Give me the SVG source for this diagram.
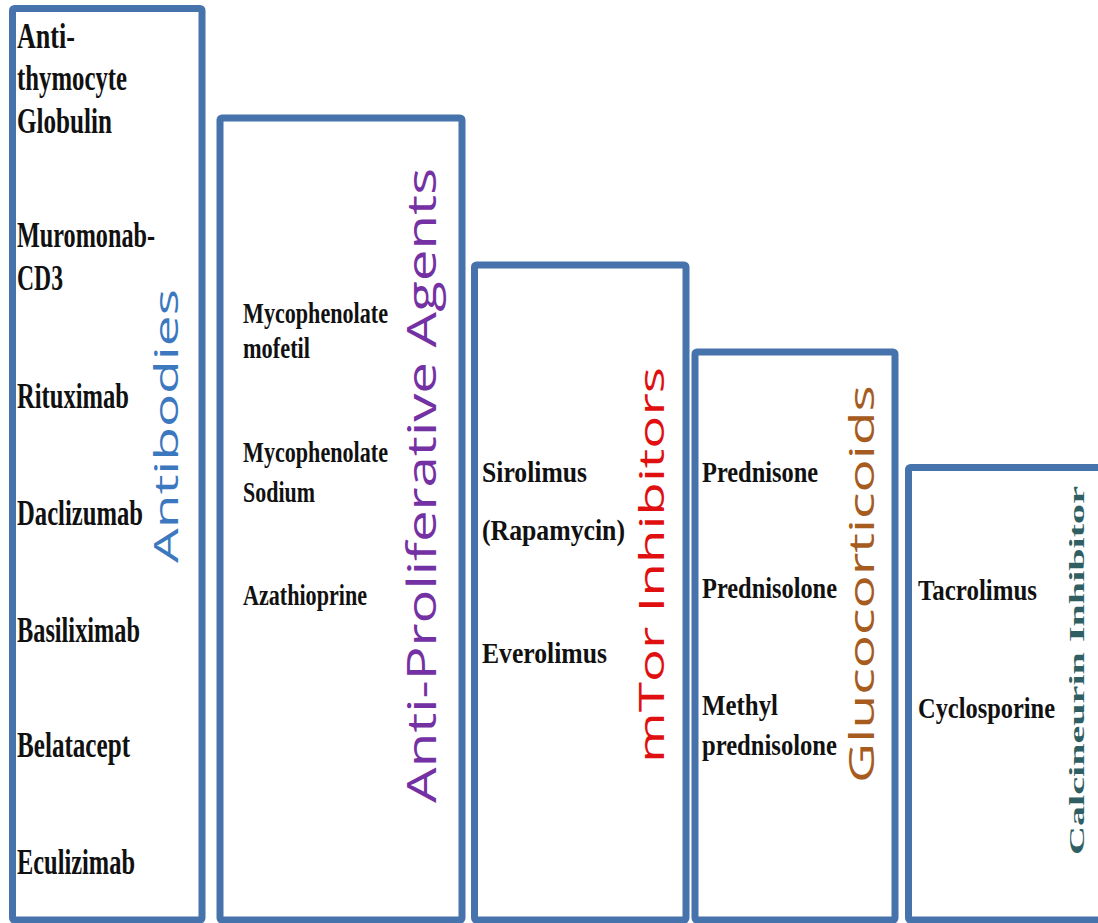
<svg xmlns="http://www.w3.org/2000/svg" width="1098" height="923" viewBox="0 0 1098 923">
<style>
.box{fill:#ffffff;stroke:#4773ac;stroke-width:7;}
.drug{font-family:"Liberation Serif","Times New Roman",serif;font-weight:bold;fill:#111111;}
.f35{font-size:35px;}
.f29{font-size:29px;}
.f30{font-size:30px;}
.lab{font-family:"Open Sans","DejaVu Sans",sans-serif;}
</style>
<rect width="1098" height="923" fill="#ffffff"/>
<g id="connectors"></g>
<g id="antibodies">
<rect class="box" x="12.5" y="8.5" width="189.5" height="911.5" rx="2"/>
<text class="drug f35" x="17" y="48" textLength="58" lengthAdjust="spacingAndGlyphs">Anti-</text>
<text class="drug f35" x="17" y="90" textLength="110" lengthAdjust="spacingAndGlyphs">thymocyte</text>
<text class="drug f35" x="17" y="133" textLength="95" lengthAdjust="spacingAndGlyphs">Globulin</text>
<text class="drug f35" x="17" y="247" textLength="138" lengthAdjust="spacingAndGlyphs">Muromonab-</text>
<text class="drug f35" x="17" y="290" textLength="46" lengthAdjust="spacingAndGlyphs">CD3</text>
<text class="drug f35" x="17" y="408" textLength="112" lengthAdjust="spacingAndGlyphs">Rituximab</text>
<text class="drug f35" x="17" y="525" textLength="126" lengthAdjust="spacingAndGlyphs">Daclizumab</text>
<text class="drug f35" x="17" y="642" textLength="123" lengthAdjust="spacingAndGlyphs">Basiliximab</text>
<text class="drug f35" x="17" y="757" textLength="113" lengthAdjust="spacingAndGlyphs">Belatacept</text>
<text class="drug f35" x="17" y="874" textLength="118" lengthAdjust="spacingAndGlyphs">Eculizimab</text>
<text class="lab" transform="translate(178,563) rotate(-90)" font-size="33" fill="#3c78bf" textLength="274" lengthAdjust="spacingAndGlyphs">Antibodies</text>
</g>
<g id="antiproliferative">
<rect class="box" x="220" y="118" width="242" height="802" rx="2"/>
<text class="drug f29" x="243" y="323" textLength="145" lengthAdjust="spacingAndGlyphs">Mycophenolate</text>
<text class="drug f29" x="243" y="358" textLength="67" lengthAdjust="spacingAndGlyphs">mofetil</text>
<text class="drug f29" x="243" y="462" textLength="145" lengthAdjust="spacingAndGlyphs">Mycophenolate</text>
<text class="drug f29" x="243" y="502" textLength="72" lengthAdjust="spacingAndGlyphs">Sodium</text>
<text class="drug f29" x="243" y="605" textLength="124" lengthAdjust="spacingAndGlyphs">Azathioprine</text>
<text class="lab" transform="translate(436,803) rotate(-90)" font-size="40" fill="#7431a3" textLength="635" lengthAdjust="spacingAndGlyphs">Anti-Proliferative Agents</text>
</g>
<g id="mtor">
<rect class="box" x="474.5" y="265" width="211.5" height="655" rx="2"/>
<text class="drug f30" x="482" y="482" textLength="105" lengthAdjust="spacingAndGlyphs">Sirolimus</text>
<text class="drug f30" x="482" y="540" textLength="143" lengthAdjust="spacingAndGlyphs">(Rapamycin)</text>
<text class="drug f30" x="482" y="663" textLength="125" lengthAdjust="spacingAndGlyphs">Everolimus</text>
<text class="lab" transform="translate(664,763) rotate(-90)" font-size="35" fill="#e01010" textLength="396" lengthAdjust="spacingAndGlyphs">mTor Inhibitors</text>
</g>
<g id="glucocorticoids">
<rect class="box" x="695" y="352" width="200" height="568" rx="2"/>
<text class="drug f30" x="702" y="482" textLength="116" lengthAdjust="spacingAndGlyphs">Prednisone</text>
<text class="drug f30" x="702" y="598" textLength="135" lengthAdjust="spacingAndGlyphs">Prednisolone</text>
<text class="drug f30" x="702" y="715" textLength="76" lengthAdjust="spacingAndGlyphs">Methyl</text>
<text class="drug f30" x="702" y="755" textLength="135" lengthAdjust="spacingAndGlyphs">prednisolone</text>
<text class="lab" transform="translate(874,783) rotate(-90)" font-size="34" fill="#a65b1f" textLength="398" lengthAdjust="spacingAndGlyphs">Glucocorticoids</text>
</g>
<g id="calcineurin">
<rect class="box" x="908.5" y="467.5" width="200" height="452.5" rx="2"/>
<text class="drug f30" x="918" y="600" textLength="119" lengthAdjust="spacingAndGlyphs">Tacrolimus</text>
<text class="drug f30" x="918" y="718" textLength="137" lengthAdjust="spacingAndGlyphs">Cyclosporine</text>
<text transform="translate(1084,855) rotate(-90)" font-family="Liberation Serif, Times New Roman, serif" font-weight="bold" font-size="22" fill="#2f5f63" textLength="369" lengthAdjust="spacingAndGlyphs">Calcineurin Inhibitor</text>
</g>
</svg>
